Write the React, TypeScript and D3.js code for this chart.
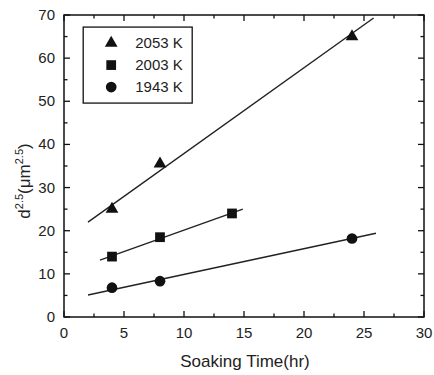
import React, { useEffect, useRef } from 'react';
import * as d3 from 'd3';

// measured points (soaking time hr, d^2.5)
const hours = [4, 8, 24];
const hours2003 = [4, 8, 14];
const vals2053 = [25, 35.5, 65];
const vals2003 = [14, 18.5, 24];
const vals1943 = [6.8, 8.3, 18.2];

// fitted lines: [x0, y0, x1, y1]
const fit2053 = [2, 22, 25.8, 69.3];
const fit2003 = [3, 13.2, 14.9, 25];
const fit1943 = [2, 5.1, 26, 19.4];

const legendLabels = ['2053 K', '2003 K', '1943 K'];
const xTicks = [0, 5, 10, 15, 20, 25, 30];
const yTicks = [0, 10, 20, 30, 40, 50, 60, 70];

const W = 434;
const H = 375;
const MARGIN = { top: 15, right: 10, bottom: 58, left: 64 };
const FONT = '"Liberation Sans", Arial, sans-serif';

const App: React.FC = () => {
    const svgRef = useRef<SVGSVGElement | null>(null);

    useEffect(() => {
        const svg = d3.select(svgRef.current);
        svg.selectAll('*').remove();

        const width = W - MARGIN.left - MARGIN.right;
        const height = H - MARGIN.top - MARGIN.bottom;

        const x = d3.scaleLinear().domain([0, 30]).range([0, width]);
        const y = d3.scaleLinear().domain([0, 70]).range([height, 0]);

        const g = svg.append('g')
            .attr('transform', `translate(${MARGIN.left},${MARGIN.top})`);

        g.append('rect')
            .attr('width', width)
            .attr('height', height)
            .attr('fill', 'none')
            .attr('stroke', '#111')
            .attr('stroke-width', 1.5);

        // inward ticks on all four sides
        const xMinor = d3.range(0, 30.01, 2.5);
        const yMinor = d3.range(0, 70.01, 5);
        const tickLen = (major: boolean) => (major ? 6 : 3.5);

        xMinor.forEach(v => {
            const major = v % 5 === 0;
            g.append('line').attr('x1', x(v)).attr('x2', x(v))
                .attr('y1', height).attr('y2', height - tickLen(major))
                .attr('stroke', '#111').attr('stroke-width', 1.3);
            g.append('line').attr('x1', x(v)).attr('x2', x(v))
                .attr('y1', 0).attr('y2', tickLen(major))
                .attr('stroke', '#111').attr('stroke-width', 1.3);
        });
        yMinor.forEach(v => {
            const major = v % 10 === 0;
            g.append('line').attr('y1', y(v)).attr('y2', y(v))
                .attr('x1', 0).attr('x2', tickLen(major))
                .attr('stroke', '#111').attr('stroke-width', 1.3);
            g.append('line').attr('y1', y(v)).attr('y2', y(v))
                .attr('x1', width).attr('x2', width - tickLen(major))
                .attr('stroke', '#111').attr('stroke-width', 1.3);
        });

        g.selectAll('.xt')
            .data(xTicks)
            .enter().append('text')
            .attr('x', d => x(d))
            .attr('y', height + 21)
            .attr('text-anchor', 'middle')
            .style('font-family', FONT)
            .style('font-size', '15px')
            .attr('fill', '#222')
            .text(d => d);

        g.selectAll('.yt')
            .data(yTicks)
            .enter().append('text')
            .attr('x', -9)
            .attr('y', d => y(d) + 5)
            .attr('text-anchor', 'end')
            .style('font-family', FONT)
            .style('font-size', '15px')
            .attr('fill', '#222')
            .text(d => d);

        g.append('text')
            .attr('x', width / 2 + 1)
            .attr('y', height + 50)
            .attr('text-anchor', 'middle')
            .style('font-family', FONT)
            .style('font-size', '17px')
            .attr('fill', '#222')
            .text('Soaking Time(hr)');

        const yl = g.append('text')
            .attr('transform', `translate(-34,${height / 2 + 15}) rotate(-90)`)
            .attr('text-anchor', 'middle')
            .style('font-family', FONT)
            .style('font-size', '17px')
            .attr('fill', '#222');
        yl.append('tspan').text('d');
        yl.append('tspan').attr('dy', -7).style('font-size', '11px').text('2.5');
        yl.append('tspan').attr('dy', 7).text('(μm');
        yl.append('tspan').attr('dy', -7).style('font-size', '11px').text('2.5');
        yl.append('tspan').attr('dy', 7).text(')');

        // fit lines
        [fit2053, fit2003, fit1943].forEach(f => {
            g.append('line')
                .attr('x1', x(f[0])).attr('y1', y(f[1]))
                .attr('x2', x(f[2])).attr('y2', y(f[3]))
                .attr('stroke', '#222')
                .attr('stroke-width', 1.4);
        });

        const tri = d3.symbol().type(d3.symbolTriangle).size(70);
        const sq = d3.symbol().type(d3.symbolSquare).size(95);
        const circ = d3.symbol().type(d3.symbolCircle).size(90);

        hours.forEach((h, i) => {
            g.append('path').attr('d', tri()!)
                .attr('transform', `translate(${x(h)},${y(vals2053[i])})`)
                .attr('fill', '#111');
            g.append('path').attr('d', circ()!)
                .attr('transform', `translate(${x(h)},${y(vals1943[i])})`)
                .attr('fill', '#111');
        });
        hours2003.forEach((h, i) => {
            g.append('path').attr('d', sq()!)
                .attr('transform', `translate(${x(h)},${y(vals2003[i])})`)
                .attr('fill', '#111');
        });

        // legend
        const lg = g.append('g').attr('transform', `translate(${x(1.6)},${y(67.2)})`);
        lg.append('rect')
            .attr('width', 109)
            .attr('height', 76)
            .attr('fill', 'white')
            .attr('stroke', '#111')
            .attr('stroke-width', 1.3);
        const syms = [tri, sq, circ];
        legendLabels.forEach((lab, i) => {
            const cy = 16 + i * 22;
            lg.append('path').attr('d', syms[i]()!)
                .attr('transform', `translate(28,${cy})`)
                .attr('fill', '#111');
            lg.append('text')
                .attr('x', 52)
                .attr('y', cy + 5)
                .style('font-family', FONT)
                .style('font-size', '15px')
                .attr('fill', '#222')
                .text(lab);
        });
    }, []);

    return (
        <svg ref={svgRef} width={W} height={H}
            style={{ position: 'absolute', left: 0, top: 0, background: 'white' }}></svg>
    );
};

export default App;
